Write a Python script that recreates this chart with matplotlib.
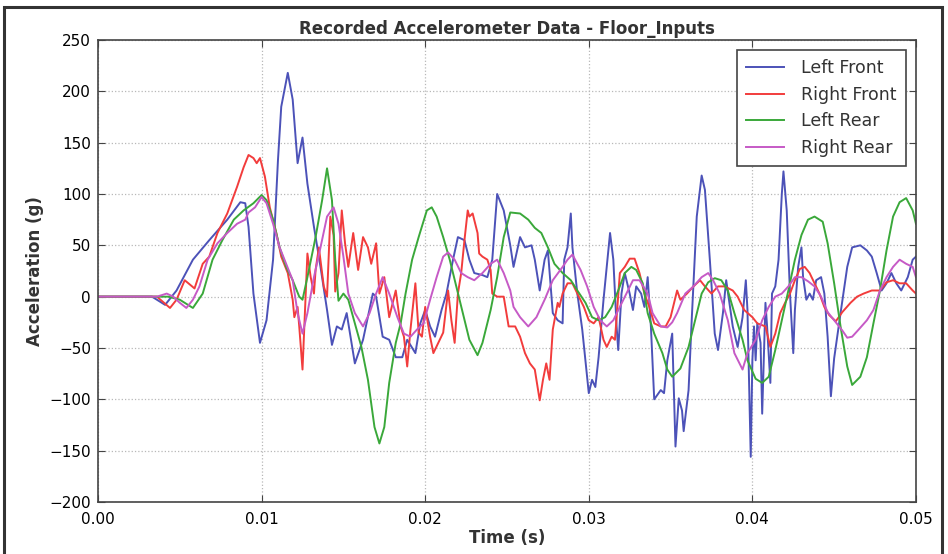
import matplotlib.pyplot as plt
from matplotlib.patches import Rectangle
import numpy as np

# time in ms, acceleration in g
lf_t = [0, 3.3, 4.1, 4.8, 5.8, 6.8, 7.9, 8.7, 9.0, 9.2, 9.5, 9.9, 10.3, 10.7, 11.0, 11.2, 11.6, 11.9,
        12.2, 12.5, 12.8, 13.2, 13.6, 14.0, 14.3, 14.6, 14.9, 15.2, 15.7, 16.2, 16.8, 17.0, 17.4, 17.8,
        18.2, 18.6, 18.9, 19.4, 19.7, 20.0, 20.3, 20.6, 21.0, 21.3, 21.7, 22.0, 22.4, 22.7, 23.0, 23.5,
        23.8, 24.1, 24.4, 24.8, 25.2, 25.4, 25.8, 26.1, 26.5, 26.7, 27.0, 27.3, 27.5, 27.8, 28.1, 28.4,
        28.5, 28.7, 28.9, 29.0, 29.3, 29.6, 29.9, 30.0, 30.2, 30.4, 30.6, 30.9, 31.3, 31.5, 31.7, 31.8,
        32.0, 32.2, 32.5, 32.7, 32.9, 33.2, 33.4, 33.6, 33.8, 34.0, 34.4, 34.6, 34.8, 35.1, 35.3, 35.5,
        35.7, 35.8, 36.1, 36.3, 36.6, 36.9, 37.1, 37.4, 37.7, 37.9, 38.2, 38.4, 38.8, 39.1, 39.4, 39.6,
        39.7, 39.9, 40.0, 40.1, 40.2, 40.3, 40.5, 40.6, 40.8, 40.9, 41.1, 41.2, 41.4, 41.6, 41.8, 41.9,
        42.1, 42.3, 42.5, 42.6, 42.8, 43.0, 43.1, 43.3, 43.5, 43.7, 43.9, 44.2, 44.4, 44.6, 44.8, 45.0,
        45.4, 45.8, 46.1, 46.6, 47.0, 47.3, 47.6, 47.9, 48.2, 48.5, 48.8, 49.1, 49.5, 49.8, 50.0]
lf_g = [0, 0, -8, 6, 36, 55, 75, 92, 91, 68, 3, -45, -23, 36, 133, 185, 218, 192,
        130, 155, 110, 68, 29, -13, -47, -29, -32, -16, -65, -42, 3, 0, -39, -42,
        -59, -59, -42, -55, -26, -13, -29, -39, -13, 3, 36, 58, 55, 36, 23, 21,
        19, 36, 100, 84, 50, 29, 58, 48, 50, 36, 6, 36, 45, -16, -23, -26,
        36, 48, 81, 48, 3, -32, -78, -94, -81, -88, -59, -3, 62, 36, -29, -52,
        3, 23, 3, -13, 10, 3, -10, 19, -30, -100, -91, -94, -62, -36, -146, -99,
        -111, -131, -91, -20, 78, 118, 104, 36, -36, -52, -16, 16, -29, -49, -20, 16,
        -13, -156, -62, -29, -62, -26, -45, -114, -6, -29, -84, 3, 10, 36, 100, 122,
        84, 3, -55, -13, 29, 48, 19, -3, 3, -3, 16, 19, 3, -39, -97, -60,
        -15, 29, 48, 50, 45, 39, 23, 6, 13, 23, 13, 6, 19, 36, 39]

rf_t = [0, 3.6, 4.4, 4.8, 5.3, 5.9, 6.4, 6.8, 7.3, 7.9, 8.5, 8.9, 9.2, 9.5, 9.7, 9.9, 10.2, 10.5,
        10.9, 11.2, 11.6, 11.9, 12.0, 12.2, 12.3, 12.5, 12.8, 13.0, 13.2, 13.3, 13.5, 13.8, 14.0, 14.2,
        14.4, 14.5, 14.7, 14.9, 15.1, 15.3, 15.6, 15.9, 16.2, 16.5, 16.7, 17.0, 17.2, 17.5, 17.8, 18.2,
        18.5, 18.7, 18.9, 19.1, 19.4, 19.6, 19.8, 20.0, 20.3, 20.5, 20.8, 21.1, 21.4, 21.6, 21.8, 22.0,
        22.2, 22.4, 22.6, 22.7, 22.9, 23.2, 23.3, 23.5, 23.8, 24.0, 24.1, 24.4, 24.8, 25.1, 25.5, 25.8,
        26.1, 26.4, 26.7, 27.0, 27.2, 27.4, 27.6, 27.8, 28.1, 28.2, 28.4, 28.7, 29.0, 29.3, 29.7, 30.0,
        30.3, 30.6, 30.9, 31.1, 31.4, 31.6, 31.9, 32.2, 32.5, 32.8, 33.1, 33.4, 33.7, 34.0, 34.4, 34.7,
        35.0, 35.4, 35.6, 36.0, 36.4, 36.8, 37.1, 37.5, 37.9, 38.3, 38.8, 39.1, 39.5, 40.0, 40.3, 40.8,
        41.1, 41.4, 41.7, 42.0, 42.3, 42.6, 42.9, 43.2, 43.5, 43.8, 44.1, 44.4, 44.7, 45.1, 45.5, 46.0,
        46.4, 46.8, 47.3, 47.8, 48.2, 48.6, 49.0, 49.4, 49.8, 50.0]
rf_g = [0, 0, -11, -3, 16, 8, 32, 39, 62, 81, 107, 126, 138, 135, 130, 135, 117, 87,
        62, 39, 23, -3, -20, -10, -29, -71, 42, 19, 3, 26, 48, 10, 0, 78,
        60, 5, 23, 84, 52, 29, 62, 26, 58, 48, 32, 52, 3, 19, -20, 6,
        -29, -39, -68, -32, 13, -35, -39, -10, -39, -55, -45, -35, 6, -23, -45, 3,
        23, 55, 84, 78, 81, 62, 42, 39, 36, 26, 3, 0, 0, -29, -29, -39,
        -55, -65, -71, -101, -81, -65, -81, -32, -6, -10, 3, 13, 13, 3, -10, -23,
        -26, -20, -42, -49, -39, -42, 23, 29, 37, 37, 23, 3, -10, -26, -29, -29,
        -20, 6, -3, 3, 10, 16, 10, 3, 10, 10, 6, 0, -13, -20, -26, -29,
        -49, -36, -16, -6, 3, 16, 27, 29, 23, 13, 3, -10, -18, -24, -15, -6,
        0, 3, 6, 6, 14, 16, 13, 13, 6, 3]

lr_t = [0, 4.3, 5.0, 5.8, 6.4, 7.0, 7.6, 8.3, 8.9, 9.5, 10.0, 10.3, 10.7, 11.1, 11.5, 11.9, 12.3, 12.5,
        12.8, 13.3, 13.7, 14.0, 14.3, 14.5, 14.7, 15.0, 15.3, 15.7, 16.1, 16.5, 16.9, 17.2, 17.5, 17.8,
        18.2, 18.5, 18.8, 19.2, 19.6, 20.1, 20.4, 20.7, 21.1, 21.5, 21.9, 22.3, 22.7, 23.2, 23.5, 24.0,
        24.4, 24.8, 25.2, 25.8, 26.3, 26.7, 27.1, 27.5, 27.9, 28.4, 28.9, 29.3, 29.8, 30.2, 30.6, 31.0,
        31.4, 31.8, 32.2, 32.6, 32.9, 33.3, 33.6, 34.0, 34.5, 34.8, 35.1, 35.6, 36.1, 36.5, 36.9, 37.3,
        37.7, 38.1, 38.5, 38.9, 39.4, 39.7, 40.2, 40.6, 41.0, 41.4, 41.8, 42.2, 42.6, 43.0, 43.4, 43.8,
        44.3, 44.6, 45.0, 45.4, 45.8, 46.1, 46.6, 47.0, 47.4, 47.8, 48.2, 48.6, 49.0, 49.4, 49.8, 50.0]
lr_g = [0, 0, -3, -11, 3, 36, 55, 75, 84, 91, 99, 94, 75, 48, 29, 16, 0, -3,
        19, 58, 94, 125, 94, 36, -4, 3, -3, -26, -49, -81, -127, -143, -127, -84,
        -45, -26, 3, 36, 58, 84, 87, 78, 58, 36, 10, -16, -42, -57, -45, -13,
        19, 58, 82, 81, 75, 67, 62, 48, 32, 23, 16, 6, -6, -20, -23, -20,
        -10, 6, 23, 29, 26, 13, -16, -36, -55, -71, -78, -70, -49, -23, 3, 14,
        18, 16, 6, -16, -42, -62, -80, -84, -78, -52, -23, 6, 36, 60, 75, 78,
        73, 52, 13, -30, -68, -86, -78, -59, -26, 6, 45, 78, 92, 96, 84, 71]

rr_t = [0, 3.6, 4.2, 4.6, 5.0, 5.4, 5.8, 6.2, 6.7, 7.3, 7.9, 8.5, 9.0, 9.2, 9.6, 10.0, 10.3, 10.7,
        11.1, 11.5, 11.9, 12.2, 12.5, 12.8, 13.2, 13.6, 14.0, 14.4, 14.7, 15.0, 15.3, 15.7, 16.2, 16.6,
        17.0, 17.4, 17.8, 18.3, 18.7, 19.1, 19.5, 19.9, 20.3, 20.7, 21.1, 21.4, 21.8, 22.2, 22.6, 23.0,
        23.5, 24.0, 24.4, 24.8, 25.2, 25.4, 25.8, 26.3, 26.8, 27.3, 27.8, 28.4, 28.7, 29.0, 29.5, 29.9,
        30.3, 30.7, 31.1, 31.5, 31.9, 32.3, 32.7, 33.1, 33.6, 33.9, 34.4, 34.8, 35.1, 35.4, 35.9, 36.4,
        36.9, 37.3, 37.6, 38.0, 38.5, 38.9, 39.4, 39.7, 40.2, 40.6, 41.0, 41.4, 41.8, 42.2, 42.6, 43.0,
        43.4, 43.8, 44.2, 44.6, 45.1, 45.5, 45.8, 46.1, 46.5, 47.0, 47.4, 47.8, 48.2, 48.6, 49.0, 49.4,
        49.8, 50.0]
rr_g = [0, 0, 3, 0, -6, -11, -3, 10, 36, 52, 62, 71, 75, 82, 87, 97, 91, 71,
        48, 32, 16, -16, -36, -16, 19, 48, 78, 87, 71, 39, 3, -16, -29, -16,
        3, 19, 3, -20, -36, -39, -32, -26, -3, 19, 39, 43, 36, 23, 19, 16,
        23, 32, 36, 23, 6, -10, -20, -29, -20, -3, 16, 29, 36, 41, 26, 10,
        -10, -23, -29, -23, -10, 3, 16, 16, 3, -16, -29, -30, -25, -16, 3, 10,
        19, 23, 16, 3, -23, -55, -71, -55, -42, -23, -10, 0, 3, 10, 19, 19,
        15, 10, 0, -15, -25, -33, -40, -39, -32, -23, -13, 6, 19, 29, 36, 32,
        29, 19]

series = [
    ('Left Front', lf_t, lf_g, '#4c52b8'),
    ('Right Front', rf_t, rf_g, '#f23c3c'),
    ('Left Rear', lr_t, lr_g, '#3aa83a'),
    ('Right Rear', rr_t, rr_g, '#c65ac6'),
]

fig = plt.figure(figsize=(9.48, 5.54), dpi=100)
ax = fig.add_axes([0.1034, 0.0939, 0.8628, 0.8339])

for label, t, g, color in series:
    ax.plot(np.array(t) / 1000.0, g, color=color, lw=1.4, label=label)

ax.set_xlim(0, 0.05)
ax.set_ylim(-200, 250)
ax.set_xticks(np.arange(0, 0.051, 0.01))
ax.set_xticklabels(['%.2f' % v for v in np.arange(0, 0.051, 0.01)])
ax.set_yticks(np.arange(-200, 251, 50))
ax.tick_params(direction='in', top=True, right=True, labelsize=11, length=5, color='#444444')
ax.tick_params(axis='x', pad=7)
ax.tick_params(axis='y', pad=5)
ax.grid(True, color='#b8b8b8', linestyle=':', linewidth=0.9)
for s in ax.spines.values():
    s.set_color('#444444')
    s.set_linewidth(1.2)

ax.set_title('Recorded Accelerometer Data - Floor_Inputs', fontsize=12, fontweight='bold',
             color='#333333', pad=4)
ax.set_xlabel('Time (s)', fontsize=12, fontweight='bold', color='#333333', labelpad=2)
ax.set_ylabel('Acceleration (g)', fontsize=12, fontweight='bold', color='#333333', labelpad=4)

leg = ax.legend(loc='upper right', fontsize=12.5, fancybox=False, framealpha=1,
                edgecolor='#444444', borderaxespad=0.6, handlelength=2.2, handletextpad=1.0,
                labelspacing=0.5, borderpad=0.5)
leg.get_frame().set_linewidth(1.2)
for txt in leg.get_texts():
    txt.set_color('#333333')

fig.patches.append(Rectangle((0.004, -0.01), 0.99, 0.997, transform=fig.transFigure,
                             fill=False, edgecolor='#333333', linewidth=2.2))

fig.savefig('out.png', dpi=100)
